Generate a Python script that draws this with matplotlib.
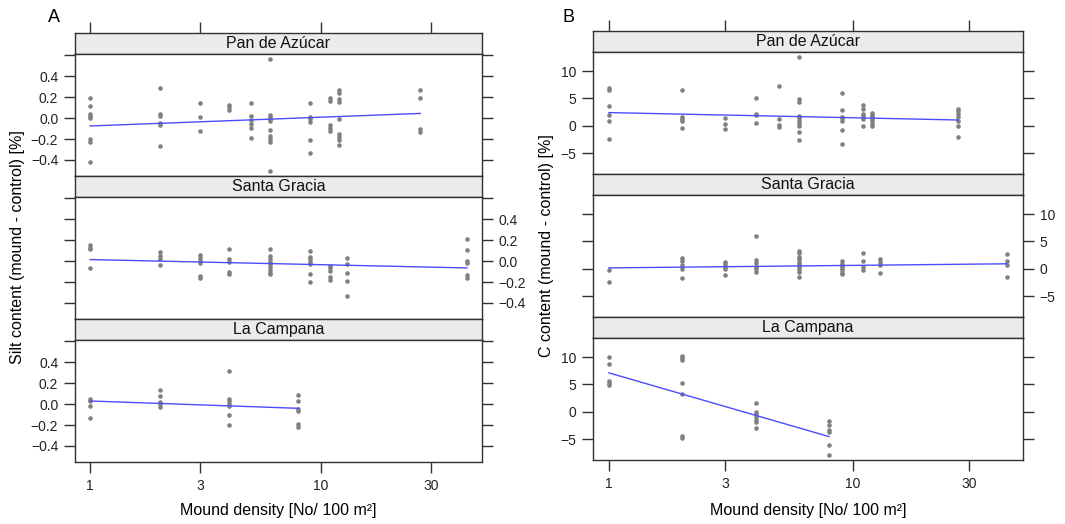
import numpy as np
import matplotlib.pyplot as plt
from matplotlib.ticker import FixedLocator, NullLocator

plt.rcParams['font.family'] = ['Liberation Sans', 'DejaVu Sans']

sites = ["Pan de Azúcar", "Santa Gracia", "La Campana"]

# ---- Silt content (mound - control) [%] ----
silt_pda_dens = [1, 2, 3, 4, 5, 6, 9, 11, 12, 27]
silt_pda_vals = [
    [0.19, 0.12, 0.04, 0.02, 0.0, -0.20, -0.23, -0.42],
    [0.29, 0.04, 0.02, -0.05, -0.07, -0.27],
    [0.14, 0.01, -0.12],
    [0.13, 0.11, 0.08],
    [0.14, 0.02, -0.02, -0.06, -0.09, -0.19],
    [0.57, 0.03, 0.01, -0.01, -0.03, -0.11, -0.17, -0.20, -0.23, -0.51],
    [0.14, 0.01, -0.01, -0.035, -0.21, -0.33],
    [0.19, 0.16, -0.065, -0.09, -0.12],
    [0.27, 0.245, 0.18, 0.155, -0.013, -0.15, -0.18, -0.21, -0.26],
    [0.27, 0.19, -0.10, -0.13],
]
silt_sg_dens = [1, 2, 3, 4, 6, 9, 11, 13, 43]
silt_sg_vals = [
    [0.15, 0.13, 0.12, -0.07],
    [0.09, 0.045, 0.016, -0.035],
    [0.055, 0.03, 0.006, -0.02, -0.14, -0.16],
    [0.12, 0.016, -0.01, -0.10, -0.12],
    [0.12, 0.05, 0.02, -0.006, -0.03, -0.06, -0.085, -0.11, -0.125],
    [0.10, 0.04, 0.016, -0.01, -0.03, -0.125, -0.20],
    [-0.045, -0.07, -0.09, -0.155, -0.18],
    [0.03, -0.03, -0.11, -0.19, -0.33],
    [0.21, 0.11, 0.006, -0.02, -0.13, -0.16],
]
silt_lc_dens = [1, 2, 4, 8]
silt_lc_vals = [
    [0.05, 0.03, -0.02, -0.13],
    [0.136, 0.078, 0.02, 0.0, -0.026],
    [0.317, 0.05, 0.03, 0.003, -0.016, -0.10, -0.20],
    [0.087, 0.026, -0.045, -0.07, -0.19, -0.22],
]
# fitted line at lowest / highest density of each site
silt_fit_lo = [-0.075, 0.015, 0.03]
silt_fit_hi = [0.045, -0.065, -0.04]

# ---- C content (mound - control) [%] ----
c_pda_dens = [1, 2, 3, 4, 5, 6, 9, 11, 12, 27]
c_pda_vals = [
    [6.85, 6.5, 3.6, 2.0, 0.86, -2.35],
    [6.5, 1.6, 1.2, 0.8, -0.5],
    [1.4, 0.3, -0.6],
    [5.1, 2.2, 1.9, 0.5],
    [7.2, 1.2, 0.06, -0.25],
    [12.65, 4.9, 4.4, 1.7, 1.35, 0.9, 0.4, -0.06, -1.1, -2.7],
    [6.0, 2.9, 1.6, 1.35, 0.8, -0.8, -3.4],
    [3.7, 3.1, 2.2, 1.7, 1.2, -0.06],
    [2.4, 2.0, 1.7, 1.3, 0.86, 0.4, -0.06],
    [3.0, 2.65, 2.2, 1.55, 0.9, 0.0, -2.0],
]
c_sg_dens = [1, 2, 3, 4, 6, 9, 11, 13, 43]
c_sg_vals = [
    [-0.2, -2.5],
    [2.0, 1.4, 0.75, 0.0, -1.65],
    [1.2, 0.8, 0.3, -0.1, -1.1],
    [6.0, 1.55, 1.1, 0.3, -0.06, -0.55],
    [3.3, 2.85, 2.15, 1.7, 1.3, 0.86, 0.4, -0.06, -0.55, -1.55],
    [1.35, 0.9, 0.5, 0.1, -0.3, -0.75, -1.05],
    [2.8, 1.4, 0.4, -0.25],
    [1.7, 1.2, 0.75, -0.7],
    [2.7, 1.35, 0.75, -1.6],
]
c_lc_dens = [1, 2, 4, 8]
c_lc_vals = [
    [10.0, 8.8, 5.55, 5.2, 4.8],
    [10.2, 9.9, 9.5, 5.2, 3.3, -4.45, -4.8],
    [1.65, 0.0, -0.35, -0.9, -1.5, -1.85, -2.9],
    [-1.65, -2.45, -3.3, -3.65, -6.05, -8.0],
]
c_fit_lo = [2.4, 0.15, 7.1]
c_fit_hi = [1.05, 0.9, -4.55]

x_ticks = [1, 3, 10, 30]
x_ticklabels = ["1", "3", "10", "30"]
silt_ticks = [-0.4, -0.2, 0.0, 0.2, 0.4, 0.6]
silt_ticklabels = ["\u22120.4", "\u22120.2", "0.0", "0.2", "0.4", ""]
c_ticks = [-5, 0, 5, 10]
c_ticklabels = ["\u22125", "0", "5", "10"]

W, H = 1065, 524
PT_COL = "#808080"
LINE_COL = "#4c4cff"
EDGE = "#303030"


def px_box(left, top, right, bottom):
    return [left / W, 1 - bottom / H, (right - left) / W, (bottom - top) / H]


def padded(lo, hi, frac=0.04):
    r = hi - lo
    return lo - frac * r, hi + frac * r


def expand(dens, vals):
    xs = np.concatenate([[d] * len(v) for d, v in zip(dens, vals)])
    ys = np.concatenate(vals)
    return xs, ys


def draw_block(fig, left, right, top, panels, fit_lo, fit_hi,
               yticks, yticklabels, ylabel, ylabel_x, letter, letter_xy):
    strip_h, panel_h = 21, 122
    all_x = np.concatenate([expand(d, v)[0] for d, v in panels])
    all_y = np.concatenate([expand(d, v)[1] for d, v in panels])
    lx = padded(np.log10(all_x.min()), np.log10(all_x.max()))
    xlim = (10 ** lx[0], 10 ** lx[1])
    ylim = padded(all_y.min(), all_y.max())

    for i, (dens, vals) in enumerate(panels):
        s_top = top + i * (strip_h + panel_h)
        sax = fig.add_axes(px_box(left, s_top, right, s_top + strip_h))
        sax.set_facecolor("#ebebeb")
        sax.set_xscale("log")
        sax.set_xlim(xlim)
        sax.set_ylim(0, 1)
        sax.yaxis.set_major_locator(NullLocator())
        sax.xaxis.set_minor_locator(NullLocator())
        if i == 0:
            sax.xaxis.set_major_locator(FixedLocator(x_ticks))
            sax.tick_params(axis="x", which="major", top=True, bottom=False,
                            labeltop=False, labelbottom=False,
                            direction="out", length=8, width=1, color=EDGE)
        else:
            sax.xaxis.set_major_locator(NullLocator())
        sax.text(0.5, 0.5, sites[i], transform=sax.transAxes,
                 ha="center", va="center", fontsize=11.5, color="#111111")
        for sp in sax.spines.values():
            sp.set_color(EDGE)
            sp.set_linewidth(1.0)

        p_top = s_top + strip_h
        ax = fig.add_axes(px_box(left, p_top, right, p_top + panel_h))
        xs, ys = expand(dens, vals)
        ax.plot(xs, ys, "o", ms=3.3, color=PT_COL, mec="none")
        ax.plot([min(dens), max(dens)], [fit_lo[i], fit_hi[i]],
                color=LINE_COL, lw=1.0)
        ax.set_xscale("log")
        ax.set_xlim(xlim)
        ax.set_ylim(ylim)
        ax.xaxis.set_minor_locator(NullLocator())
        ax.yaxis.set_minor_locator(NullLocator())
        ax.set_yticks(yticks)
        ax.set_yticklabels(yticklabels)
        ax.set_xticks(x_ticks)
        ax.set_xticklabels(x_ticklabels)
        last = i == len(panels) - 1
        ax.tick_params(axis="both", direction="out", length=8, width=1,
                       color=EDGE, labelsize=10, labelcolor="#222222", pad=4)
        ax.tick_params(axis="x", bottom=last, labelbottom=last, top=False)
        ax.tick_params(axis="y", left=True, right=True,
                       labelleft=(i != 1), labelright=(i == 1))
        for sp in ax.spines.values():
            sp.set_color(EDGE)
            sp.set_linewidth(1.0)

    block_bottom = top + 3 * (strip_h + panel_h)
    fig.text(ylabel_x / W, 1 - (top + block_bottom) / 2 / H, ylabel,
             rotation=90, ha="center", va="center", fontsize=11.5)
    fig.text((left + right) / 2 / W, 1 - 510 / H,
             "Mound density [No/ 100 m\u00b2]",
             ha="center", va="center", fontsize=11.5)
    fig.text(letter_xy[0] / W, 1 - letter_xy[1] / H, letter,
             ha="center", va="center", fontsize=13)


fig = plt.figure(figsize=(W / 100, H / 100), dpi=100)

silt_panels = [(silt_pda_dens, silt_pda_vals),
               (silt_sg_dens, silt_sg_vals),
               (silt_lc_dens, silt_lc_vals)]
c_panels = [(c_pda_dens, c_pda_vals),
            (c_sg_dens, c_sg_vals),
            (c_lc_dens, c_lc_vals)]

draw_block(fig, 75, 482, 33, silt_panels, silt_fit_lo, silt_fit_hi,
           silt_ticks, silt_ticklabels,
           "Silt content (mound - control) [%]", 18, "A", (54, 17))
draw_block(fig, 593, 1023, 31, c_panels, c_fit_lo, c_fit_hi,
           c_ticks, c_ticklabels,
           "C content (mound - control) [%]", 546, "B", (569, 17))

fig.savefig("out.png", dpi=100, facecolor="white")
